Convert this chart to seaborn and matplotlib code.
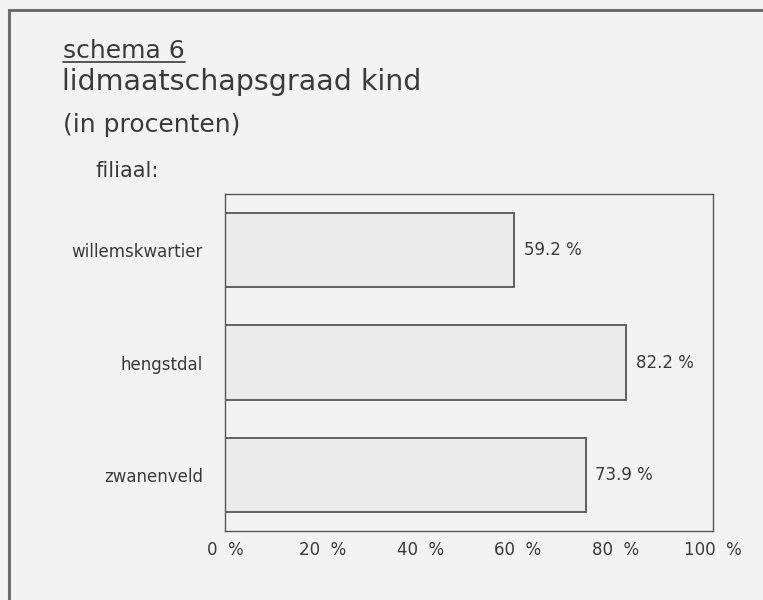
import matplotlib
matplotlib.use("Agg")
import matplotlib.pyplot as plt
from matplotlib.patches import Rectangle
import seaborn as sns
import pandas as pd

# data
categories = ["willemskwartier", "hengstdal", "zwanenveld"]
values = [59.2, 82.2, 73.9]
xticks = [0, 20, 40, 60, 80, 100]
xtick_labels = ["0  %", "20  %", "40  %", "60  %", "80  %", "100  %"]
value_labels = ["59.2 %", "82.2 %", "73.9 %"]

df = pd.DataFrame({"filiaal": categories, "pct": values})

sns.set_theme(style="white")
plt.rcParams["font.family"] = ["DejaVu Sans"]

BG = "#f3f3f3"
TXT = "#3a3a3a"
W, H = 763, 600

fig = plt.figure(figsize=(7.63, 6.0), dpi=100, facecolor=BG)
ax = fig.add_axes([225 / W, 1 - 531 / H, (713 - 225) / W, (531 - 194) / H])
ax.set_facecolor(BG)

sns.barplot(data=df, x="pct", y="filiaal", orient="h", ax=ax,
            color="#ebebeb", edgecolor="#555555", linewidth=1.3,
            width=0.66, saturation=1)

ax.set_xlim(0, 100)
ax.set_ylim(2.5, -0.5)
ax.set_xticks(xticks)
ax.set_xticklabels(xtick_labels, fontsize=12, color=TXT)
ax.tick_params(axis="x", length=0, pad=7)
ax.tick_params(axis="y", length=0, pad=16, labelsize=12, labelcolor=TXT)
ax.set_xlabel("")
ax.set_ylabel("")
for s in ax.spines.values():
    s.set_visible(True)
    s.set_color("#555555")
    s.set_linewidth(1.0)

for i, (v, lab) in enumerate(zip(values, value_labels)):
    ax.text(v + 2.0, i, lab, va="center", ha="left", fontsize=12, color=TXT)

# titles
t1 = fig.text(63 / W, 1 - 58 / H, "schema 6", fontsize=18, color=TXT, va="baseline", ha="left")
fig.text(62 / W, 1 - 90 / H, "lidmaatschapsgraad kind", fontsize=20.5, color=TXT, va="baseline", ha="left")
fig.text(63 / W, 1 - 132 / H, "(in procenten)", fontsize=18, color=TXT, va="baseline", ha="left")
fig.text(95 / W, 1 - 177 / H, "filiaal:", fontsize=15, color=TXT, va="baseline", ha="left")

fig.canvas.draw()
bb = t1.get_window_extent().transformed(fig.transFigure.inverted())
fig.add_artist(plt.Line2D([bb.x0, bb.x1], [1 - 62 / H, 1 - 62 / H], color=TXT, lw=1.2))

# outer frame
fig.add_artist(Rectangle((9 / W, -0.05), (W + 20) / W, 1.05 - 9.5 / H,
                         transform=fig.transFigure, fill=False, edgecolor="#6e6e6e", lw=2.2))

fig.savefig("out.png", dpi=100, facecolor=BG)
